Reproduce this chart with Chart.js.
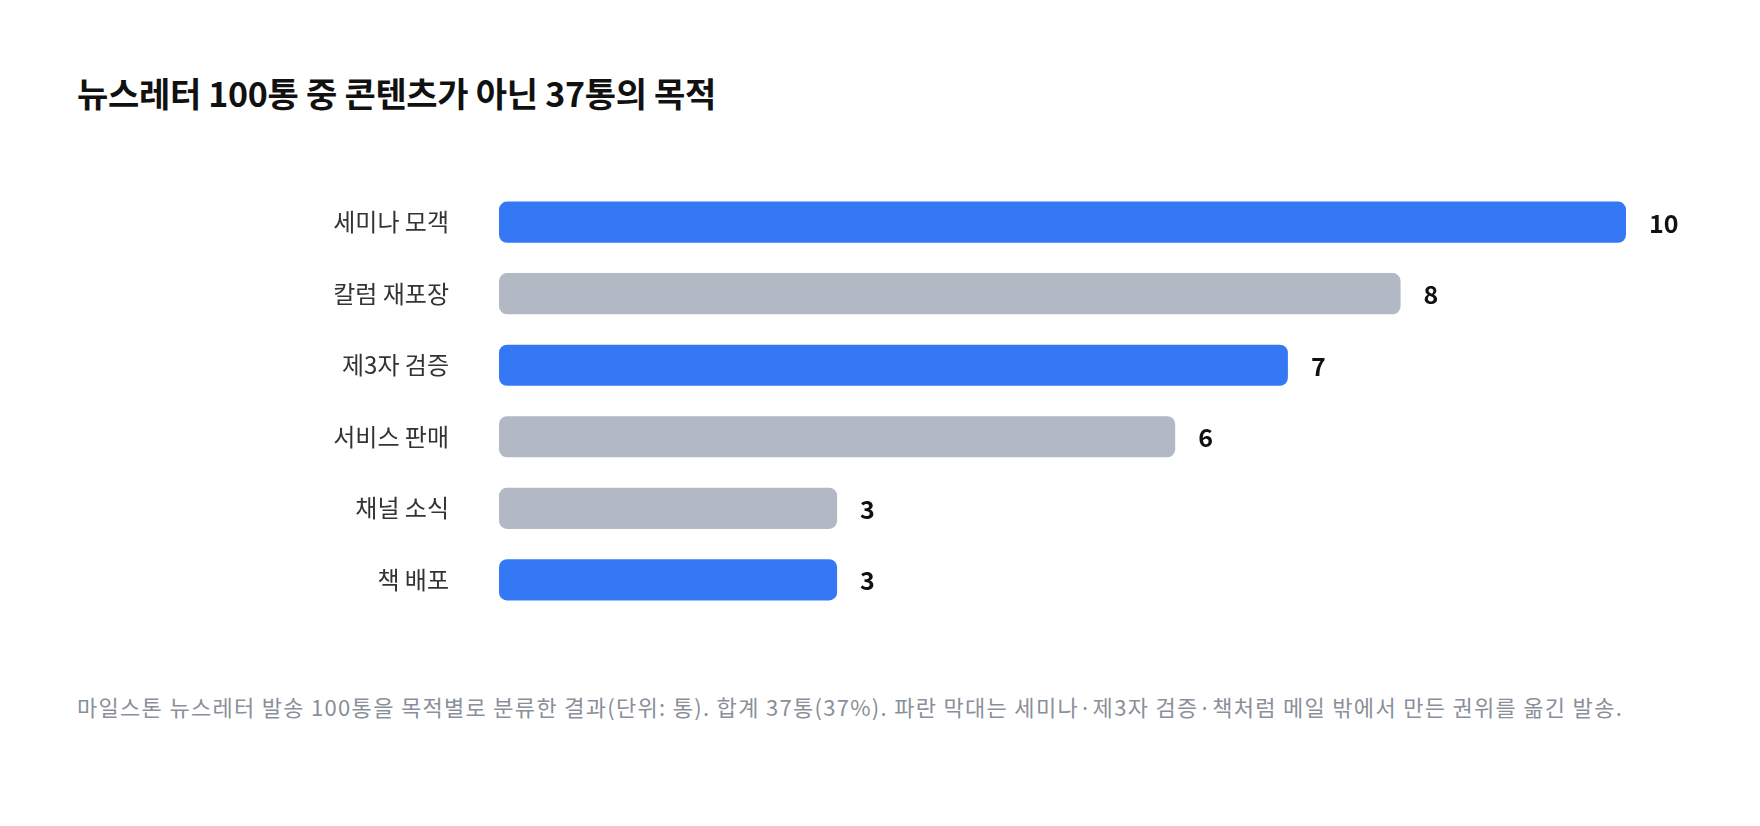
<!DOCTYPE html>
<html>
<head>
<meta charset="utf-8">
<script src="https://cdn.jsdelivr.net/npm/chart.js@4"></script>
<style>
body { margin: 0; background: #fff; font-family: "Noto Sans CJK KR", sans-serif; }
#wrap { position: relative; width: 1760px; height: 826px; }
h1 { position: absolute; left: 77px; top: 68px; margin: 0; font-size: 34px; font-weight: 700; color: #111; letter-spacing: -0.3px; }
#myChart { position: absolute; left: 0; top: 130px; }
p { position: absolute; left: 77px; top: 685px; width: 1640px; margin: 0; font-size: 22px; letter-spacing: 1.3px; line-height: 43px; color: #8a8f99; }
</style>
</head>
<body>
<div id="wrap">
<h1>뉴스레터 100통 중 콘텐츠가 아닌 37통의 목적</h1>
<canvas id="myChart" width="1760" height="542"></canvas>
<p>마일스톤 뉴스레터 발송 100통을 목적별로 분류한 결과(단위: 통). 합계 37통(37%). 파란 막대는 세미나·제3자 검증·책처럼 메일 밖에서 만든 권위를 옮긴 발송.</p>
</div>
<script>
const categories = ['세미나 모객', '칼럼 재포장', '제3자 검증', '서비스 판매', '채널 소식', '책 배포']
const counts = [10, 8, 7, 6, 3, 3]
const highlighted = [true, false, true, false, false, true]

const valueLabels = {
    id: 'valueLabels',
    afterDatasetsDraw: function(chart) {
        const ctx = chart.ctx
        const meta = chart.getDatasetMeta(0)
        ctx.save()
        ctx.font = 'bold 25px "Noto Sans CJK KR"'
        ctx.fillStyle = '#111'
        ctx.textBaseline = 'middle'
        meta.data.forEach(function(bar, i) {
            ctx.fillText(String(counts[i]), bar.x + 23, bar.y + 1)
        })
        ctx.restore()
    }
}

const ctx = document.getElementById('myChart').getContext('2d')
new Chart(ctx, {
    type: 'bar',
    data: {
        labels: categories,
        datasets: [{
            data: counts,
            backgroundColor: highlighted.map(function(h) { return h ? '#3478F6' : '#B2B9C4' }),
            borderRadius: 8,
            borderSkipped: false,
            barPercentage: 0.576,
            categoryPercentage: 1
        }]
    },
    options: {
        indexAxis: 'y',
        responsive: false,
        animation: false,
        layout: { padding: { top: 11, right: 134, bottom: 0, left: 0 } },
        scales: {
            x: { display: false, min: 0, max: 10 },
            y: {
                grid: { display: false },
                border: { display: false },
                afterFit: function(axis) { axis.width = 499 },
                ticks: {
                    padding: 42,
                    color: '#333',
                    font: { size: 24, family: '"Noto Sans CJK KR"' }
                }
            }
        },
        plugins: { legend: { display: false }, tooltip: { enabled: false } }
    },
    plugins: [valueLabels]
})
</script>
</body>
</html>
